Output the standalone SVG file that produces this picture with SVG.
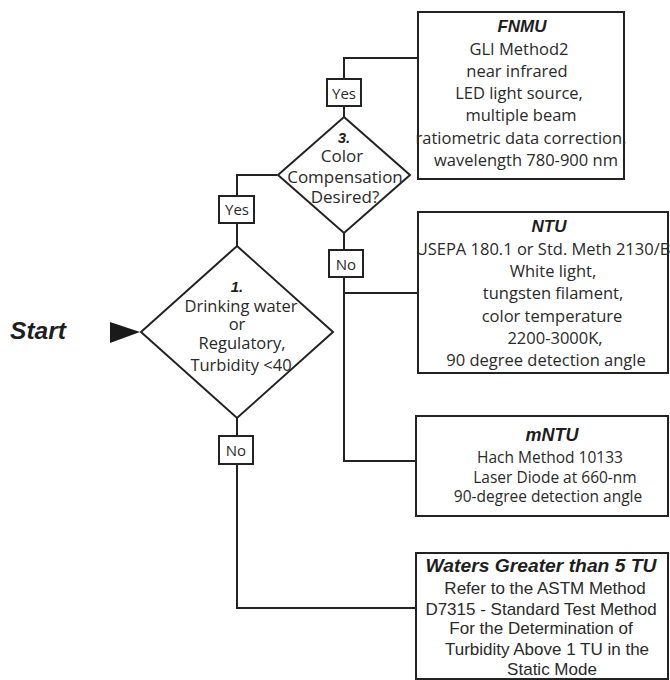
<svg xmlns="http://www.w3.org/2000/svg" width="670" height="680" viewBox="0 0 670 680">
<style>
.box{fill:#fff;stroke:#222;stroke-width:2}
.lbl{fill:#fff;stroke:#222;stroke-width:2}
.con{fill:none;stroke:#222;stroke-width:2}
.t{font-family:"Open Sans","Liberation Sans",sans-serif;font-size:16.5px;fill:#2a2a2a;text-anchor:middle}
.s{font-size:15.5px}
.h{font-family:"Liberation Sans",Arial,sans-serif;font-weight:bold;font-style:italic;font-size:17px;fill:#1e1e1e;text-anchor:middle}
.a{font-family:"Liberation Sans",Arial,sans-serif;font-size:17px;fill:#2a2a2a;text-anchor:middle}
</style>
<rect width="670" height="680" fill="#fff"/>
<g id="connectors">
<polyline class="con" points="344,117 344,106"/>
<polyline class="con" points="344,79 344,58 418,58"/>
<polyline class="con" points="277,175 237,175 237,196"/>
<polyline class="con" points="237,223 237,246"/>
<polyline class="con" points="344,233 344,250"/>
<polyline class="con" points="344,277 344,461 416,461"/>
<polyline class="con" points="344,293 418,293"/>
<polyline class="con" points="237,418 237,436"/>
<polyline class="con" points="237,464 237,608 416,608"/>
<polygon points="110,322 140,332 110,343" fill="#1a1a1a"/>
</g>
<g id="start">
<text class="h" x="38" y="339" style="font-size:24.5px">Start</text>
</g>
<g id="decision1">
<polygon class="box" points="237,246 333,332 237,418 141,332"/>
<text class="h" x="237" y="292" style="font-size:15px">1.</text>
<text class="t" x="241" y="312">Drinking water</text>
<text class="t" x="237" y="330">or</text>
<text class="t" x="242" y="349">Regulatory,</text>
<text class="t" x="241" y="371">Turbidity &lt;40</text>
</g>
<g id="decision3">
<polygon class="box" points="344,117 410,175 344,233 278,175"/>
<text class="h" x="344" y="143" style="font-size:15px">3.</text>
<text class="t" x="342" y="162" style="font-size:17px">Color</text>
<text class="t" x="345" y="183" style="font-size:17px">Compensation</text>
<text class="t" x="345" y="203" style="font-size:17px">Desired?</text>
</g>
<g id="yes3">
<rect class="lbl" x="327" y="79" width="34" height="27"/>
<text class="t" x="344" y="99" style="font-size:15px">Yes</text>
</g>
<g id="no3">
<rect class="lbl" x="329" y="250" width="34" height="27"/>
<text class="t" x="346" y="270" style="font-size:15px">No</text>
</g>
<g id="yes1">
<rect class="lbl" x="219" y="196" width="35" height="27"/>
<text class="t" x="237" y="215" style="font-size:15px">Yes</text>
</g>
<g id="no1">
<rect class="lbl" x="219" y="436" width="34" height="28"/>
<text class="t" x="236" y="456" style="font-size:15px">No</text>
</g>
<g id="fnmu">
<rect class="box" x="418" y="12" width="206" height="167"/>
<text class="h" x="522" y="32">FNMU</text>
<text class="t" x="519" y="55">GLI Method2</text>
<text class="t" x="517" y="77">near infrared</text>
<text class="t" x="519" y="99">LED light source,</text>
<text class="t" x="521" y="121">multiple beam</text>
<text class="t" x="521" y="144">ratiometric data correction,</text>
<text class="t" x="526" y="166">wavelength 780-900 nm</text>
</g>
<g id="ntu">
<rect class="box" x="418" y="212" width="250" height="161"/>
<text class="h" x="549" y="232">NTU</text>
<text class="t" x="543" y="255">USEPA 180.1 or Std. Meth 2130/B</text>
<text class="t" x="553" y="277">White light,</text>
<text class="t" x="553" y="299">tungsten filament,</text>
<text class="t" x="552" y="322">color temperature</text>
<text class="t" x="555" y="344">2200-3000K,</text>
<text class="t" x="546" y="366">90 degree detection angle</text>
</g>
<g id="mntu">
<rect class="box" x="416" y="416" width="252" height="100"/>
<text class="h" x="552" y="441" style="font-size:18px">mNTU</text>
<text class="t s" x="550" y="463">Hach Method 10133</text>
<text class="t s" x="555" y="483">Laser Diode at 660-nm</text>
<text class="t s" x="548" y="502">90-degree detection angle</text>
</g>
<g id="waters">
<rect class="box" x="416" y="553" width="252" height="126"/>
<text class="h" x="541" y="572" style="font-size:18px" textLength="231" lengthAdjust="spacingAndGlyphs">Waters Greater than 5 TU</text>
<text class="a" x="545" y="594">Refer to the ASTM Method</text>
<text class="a" x="541" y="615">D7315 - Standard Test Method</text>
<text class="a" x="541" y="634">For the Determination of</text>
<text class="a" x="547" y="655">Turbidity Above 1 TU in the</text>
<text class="a" x="552" y="675">Static Mode</text>
</g>
</svg>
